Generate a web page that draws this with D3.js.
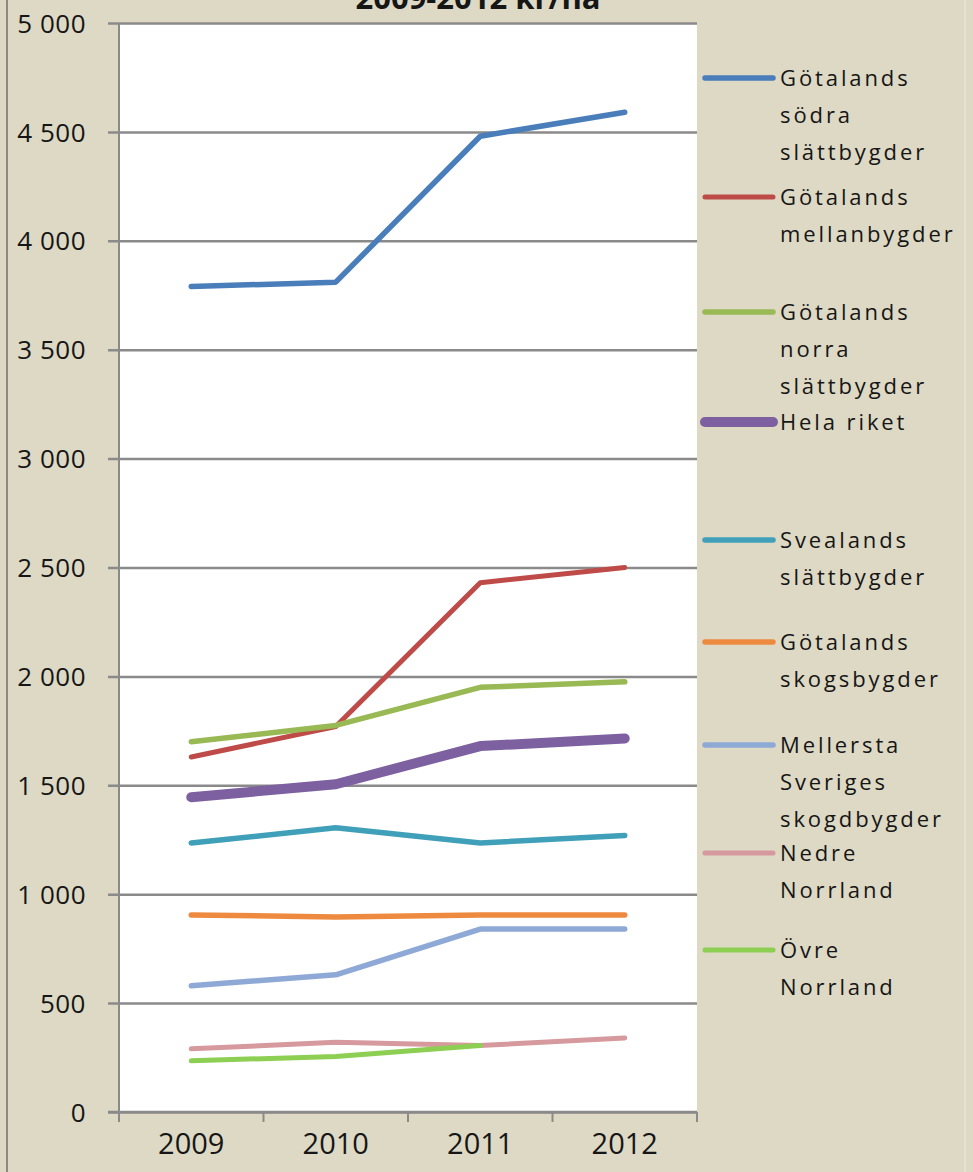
<!DOCTYPE html>
<html>
<head>
<meta charset="utf-8">
<script src="https://cdn.jsdelivr.net/npm/d3@7"></script>
<style>
  html, body { margin: 0; padding: 0; background: #DDD9C4; }
  svg { display: block; }
  text { font-family: "Open Sans", "Liberation Sans", sans-serif; fill: #161616; }
</style>
</head>
<body>
<script>
// Arrendepriser per produktionsområde, kr/ha
const years = ["2009", "2010", "2011", "2012"];

const seriesNames = [
  "Götalands södra slättbygder",
  "Götalands mellanbygder",
  "Götalands norra slättbygder",
  "Hela riket",
  "Svealands slättbygder",
  "Götalands skogsbygder",
  "Mellersta Sveriges skogdbygder",
  "Nedre Norrland",
  "Övre Norrland"
];

const gotalandsSodra   = [3790, 3810, 4480, 4590];
const gotalandsMellan  = [1630, 1770, 2430, 2500];
const gotalandsNorra   = [1700, 1775, 1950, 1975];
const helaRiket        = [1445, 1505, 1680, 1715];
const svealands        = [1235, 1305, 1235, 1270];
const gotalandsSkog    = [905, 895, 905, 905];
const mellerstaSverige = [580, 630, 840, 840];
const nedreNorrland    = [290, 320, 305, 340];
const ovreNorrland     = [235, 255, 305, null];

const yTicks = [0, 500, 1000, 1500, 2000, 2500, 3000, 3500, 4000, 4500, 5000];
const yTickLabels = ["0", "500", "1 000", "1 500", "2 000", "2 500", "3 000", "3 500", "4 000", "4 500", "5 000"];

const titleText = "2009-2012 kr/ha";

const seriesValues = [gotalandsSodra, gotalandsMellan, gotalandsNorra, helaRiket,
  svealands, gotalandsSkog, mellerstaSverige, nedreNorrland, ovreNorrland];
const seriesColors = ["#4A7EBB", "#BE4B48", "#98B954", "#7D60A0",
  "#41A0B9", "#EE8A40", "#8FA9D6", "#D69A9E", "#8CCF52"];
const seriesWidths = [5.5, 5, 5.5, 10, 5.5, 5.5, 5.5, 5, 5];

// ---- layout ----
const W = 973, H = 1172;
const plot = { left: 119, right: 697, top: 23, bottom: 1112 };
const legendX = 705, legendLineLen = 68, legendTextX = 780;
const legendRowY = [78, 197, 312, 422, 540, 642, 745, 853, 950];
const legendLineGap = 37;

const svg = d3.select("body").append("svg").attr("width", W).attr("height", H);

svg.append("rect").attr("width", W).attr("height", H).attr("fill", "#DDD9C4");
// chart frame edges
svg.append("line").attr("x1", 7).attr("x2", 7).attr("y1", 0).attr("y2", H)
  .attr("stroke", "#8c8a80").attr("stroke-width", 2);
svg.append("line").attr("x1", 965).attr("x2", 965).attr("y1", 0).attr("y2", H)
  .attr("stroke", "#e6e3d6").attr("stroke-width", 1.5);

svg.append("text").attr("x", 478).attr("y", 9)
  .attr("text-anchor", "middle").style("font-weight", "bold").style("font-size", "31px")
  .text(titleText);

const x = d3.scaleBand().domain(years).range([plot.left, plot.right]);
const y = d3.scaleLinear().domain([0, 5000]).range([plot.bottom, plot.top]);

svg.append("rect").attr("x", plot.left).attr("y", plot.top)
  .attr("width", plot.right - plot.left).attr("height", plot.bottom - plot.top)
  .attr("fill", "#ffffff");

// horizontal gridlines with outward tick marks
const yAxis = d3.axisLeft(y).tickValues(yTicks)
  .tickSize(-(plot.right - plot.left)).tickSizeOuter(0)
  .tickFormat((d, i) => yTickLabels[i]);
const gy = svg.append("g").attr("transform", `translate(${plot.left},0)`).call(yAxis);
gy.select(".domain").remove();
gy.selectAll(".tick line").attr("stroke", "#8a8a8a").attr("stroke-width", 2.5).attr("x1", -11);
gy.selectAll(".tick text").attr("x", -33).attr("dy", "0.35em")
  .style("font-size", "26px").style("letter-spacing", "0.5px");
svg.append("line").attr("x1", plot.left).attr("x2", plot.left)
  .attr("y1", plot.top).attr("y2", plot.bottom)
  .attr("stroke", "#8a8a8a").attr("stroke-width", 2);

// category axis
const xAxis = d3.axisBottom(x).tickSize(0).tickSizeOuter(0);
const gx = svg.append("g").attr("transform", `translate(0,${plot.bottom})`).call(xAxis);
gx.select(".domain").remove();
gx.selectAll(".tick text").attr("y", 42).attr("dy", "0")
  .style("font-size", "29px");
svg.append("line").attr("x1", plot.left - 11).attr("x2", plot.right)
  .attr("y1", plot.bottom).attr("y2", plot.bottom)
  .attr("stroke", "#8a8a8a").attr("stroke-width", 2.5);
const bounds = years.map(d => x(d)).concat([plot.right]);
svg.selectAll(".cat-tick").data(bounds).join("line").attr("class", "cat-tick")
  .attr("x1", d => d).attr("x2", d => d)
  .attr("y1", plot.bottom).attr("y2", plot.bottom + 10)
  .attr("stroke", "#8a8a8a").attr("stroke-width", 2);

// series lines
const line = d3.line()
  .defined(d => d.v != null)
  .x(d => x(d.year) + x.bandwidth() / 2)
  .y(d => y(d.v));

seriesValues.forEach((vals, i) => {
  const pts = vals.map((v, j) => ({ year: years[j], v }));
  svg.append("path").datum(pts)
    .attr("d", line)
    .attr("fill", "none")
    .attr("stroke", seriesColors[i])
    .attr("stroke-width", seriesWidths[i])
    .attr("stroke-linecap", "round")
    .attr("stroke-linejoin", "round");
});

// legend with word-wrapped labels
const legendMaxW = 180;
seriesNames.forEach((name, i) => {
  const yy = legendRowY[i];
  svg.append("line")
    .attr("x1", legendX).attr("x2", legendX + legendLineLen)
    .attr("y1", yy).attr("y2", yy)
    .attr("stroke", seriesColors[i])
    .attr("stroke-width", seriesWidths[i])
    .attr("stroke-linecap", "round");

  const t = svg.append("text").attr("x", legendTextX).attr("y", yy)
    .style("font-size", "22px").style("letter-spacing", "2.9px");
  const words = name.split(" ");
  let lineNo = 0;
  let ts = t.append("tspan").attr("x", legendTextX).attr("y", yy).attr("dy", "0.35em");
  let current = [];
  words.forEach(w => {
    current.push(w);
    ts.text(current.join(" "));
    if (ts.node().getComputedTextLength() > legendMaxW && current.length > 1) {
      current.pop();
      ts.text(current.join(" "));
      current = [w];
      lineNo++;
      ts = t.append("tspan").attr("x", legendTextX)
        .attr("y", yy + lineNo * legendLineGap).attr("dy", "0.35em").text(w);
    }
  });
});
</script>
</body>
</html>
